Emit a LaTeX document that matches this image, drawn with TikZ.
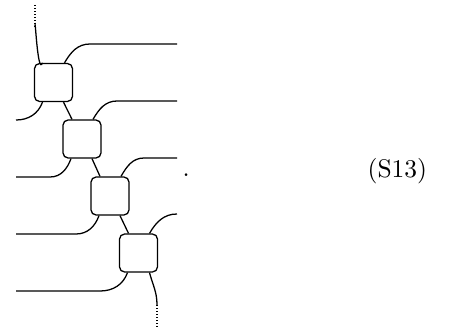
\documentclass[tikz,border=0pt]{standalone}
\usetikzlibrary{calc}
\begin{document}
\begin{tikzpicture}[x=0.3922pt,y=-0.3922pt,line width=0.5pt,
  tbox/.style={draw,rounded corners=2pt,minimum size=14.9pt,inner sep=0pt,line width=0.5pt},
  wire/.style={line width=0.5pt},
  dotwire/.style={line width=0.4pt,dash pattern=on 0.4pt off 0.8pt}]
\useasboundingbox (0,0) rectangle (458,331);
\node[tbox] (b1) at (53.5,82.5) {};
\node[tbox] (b2) at (82,139) {};
\node[tbox] (b3) at (110,196) {};
\node[tbox] (b4) at (138.5,253) {};
% top
\coordinate (t0) at (35,27);
\coordinate (t1) at (35,5);
\draw[dotwire] (t1) -- (t0);
\draw[wire] (t0) to[out=90,in=-110] ($(b1.north)+(-11,0)$);
% box 1
\coordinate (r1) at (90,44);
\coordinate (e1) at (177,44);
\draw[wire] ($(b1.north)+(11,0)$) to[out=60,in=180] (r1) -- (e1);
\coordinate (l1) at (16,120);
\draw[wire] ($(b1.south)+(-11,0)$) to[out=-110,in=0] (l1);
\draw[wire] ($(b1.south)+(10,0)$) -- ($(b2.north)+(-10,0)$);
% box 2
\coordinate (r2) at (117,101);
\coordinate (e2) at (177,101);
\draw[wire] ($(b2.north)+(11,0)$) to[out=60,in=180] (r2) -- (e2);
\coordinate (m2) at (50,177);
\coordinate (l2) at (16,177);
\draw[wire] ($(b2.south)+(-11,0)$) to[out=-110,in=0] (m2) -- (l2);
\draw[wire] ($(b2.south)+(10,0)$) -- ($(b3.north)+(-10,0)$);
% box 3
\coordinate (r3) at (144,158);
\coordinate (e3) at (177,158);
\draw[wire] ($(b3.north)+(11,0)$) to[out=60,in=180] (r3) -- (e3);
\coordinate (m3) at (76,234);
\coordinate (l3) at (16,234);
\draw[wire] ($(b3.south)+(-11,0)$) to[out=-110,in=0] (m3) -- (l3);
\draw[wire] ($(b3.south)+(10,0)$) -- ($(b4.north)+(-10,0)$);
% box 4
\coordinate (e4) at (177,214);
\draw[wire] ($(b4.north)+(11,0)$) to[out=60,in=180] (e4);
\coordinate (m4) at (100,291);
\coordinate (l4) at (16,291);
\draw[wire] ($(b4.south)+(-11,0)$) to[out=-110,in=0] (m4) -- (l4);
\coordinate (d0) at (157,305);
\coordinate (d1) at (157,327);
\draw[wire] ($(b4.south)+(11,0)$) to[out=-75,in=90] (d0);
\draw[dotwire] (d0) -- (d1);
% text
\node[anchor=base west,inner sep=0pt] (dot) at (182,176) {.};
\node[anchor=base west,inner sep=0pt] (lab) at (367,177) {(S13)};
\end{tikzpicture}
\end{document}
